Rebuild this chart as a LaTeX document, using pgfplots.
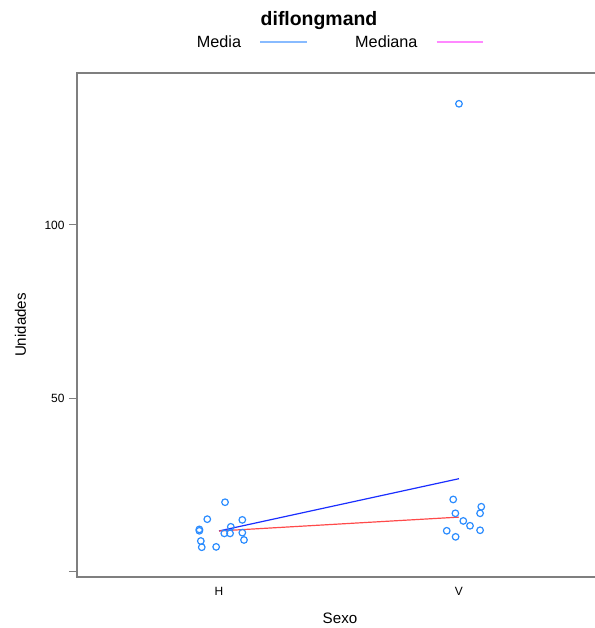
\documentclass[border=0pt]{standalone}
\usepackage{pgfplots}
\pgfplotsset{compat=1.18}
\usepackage{fontspec}
\setmainfont{Liberation Sans}
\definecolor{axgray}{HTML}{7F7F7F}
\definecolor{ptblue}{HTML}{2B8CFF}
\definecolor{lgblue}{HTML}{88BBFF}
\definecolor{lgpink}{HTML}{FF88FF}
\definecolor{lnblue}{HTML}{1A2EFF}
\definecolor{lnred}{HTML}{FF4A4A}
\pgfplotstableread{
x y
1.025 19.9
0.951 15.0
1.097 14.8
0.918 12.05
0.918 11.65
1.049 12.8
1.022 10.9
1.046 10.9
1.097 11.1
0.924 8.7
0.928 6.9
0.988 7.0
1.104 9.0
2.000 135.0
1.976 20.7
1.985 16.7
2.093 18.6
2.088 16.7
2.018 14.5
2.046 13.1
1.949 11.65
1.986 9.9
2.088 11.8
}\points
\pgfplotstableread{
x y
1 11.6
2 26.7
}\means
\pgfplotstableread{
x y
1 11.6
2 15.6
}\medians
\begin{document}
\begin{tikzpicture}[x=1bp,y=1bp]
\begin{axis}[
  at={(0,0)}, anchor=south west,
  scale only axis, width=524bp, height=504bp,
  xmin=0.408, xmax=2.592, ymin=-1.7, ymax=143.9,
  xtick={1,2}, xticklabels={H,V},
  ytick={0,50,100}, yticklabels={,50,100},
  tick pos=left, tick align=outside,
  major tick length=8bp,
  x tick style={draw=none},
  y tick style={axgray, line width=1bp},
  axis line style={axgray, line width=1.3bp},
  ticklabel style={font=\fontsize{12}{14}\selectfont},
  yticklabel style={xshift=-1bp},
  xticklabel style={yshift=1bp},
  clip=false,
]
\addplot[only marks, mark=o, mark size=3.3bp, mark options={ptblue, line width=1.2bp}] table {\points};
\addplot[lnblue, line width=1.2bp] table {\means};
\addplot[lnred, line width=1.2bp] table {\medians};
\end{axis}
\node[anchor=base, font=\bfseries\fontsize{19.5}{23}\selectfont] at (242,551) {diflongmand};
\node[anchor=base west, inner sep=0, font=\fontsize{16.3}{19}\selectfont] at (119.7,529.5) {Media};
\draw[lgblue, line width=2bp] (183,534.7) -- (229.7,534.7);
\node[anchor=base west, inner sep=0, font=\fontsize{16.3}{19}\selectfont] at (278,529.5) {Mediana};
\draw[lgpink, line width=2bp] (359.7,534.7) -- (406.3,534.7);
\node[anchor=base, inner sep=0, font=\fontsize{15.2}{18}\selectfont] at (263,-46.3) {Sexo};
\node[anchor=base, inner sep=0, rotate=90, font=\fontsize{15.2}{18}\selectfont] at (-51,252) {Unidades};
\pgfresetboundingbox
\useasboundingbox (-77,-51) rectangle (518,577);
\end{tikzpicture}
\end{document}
